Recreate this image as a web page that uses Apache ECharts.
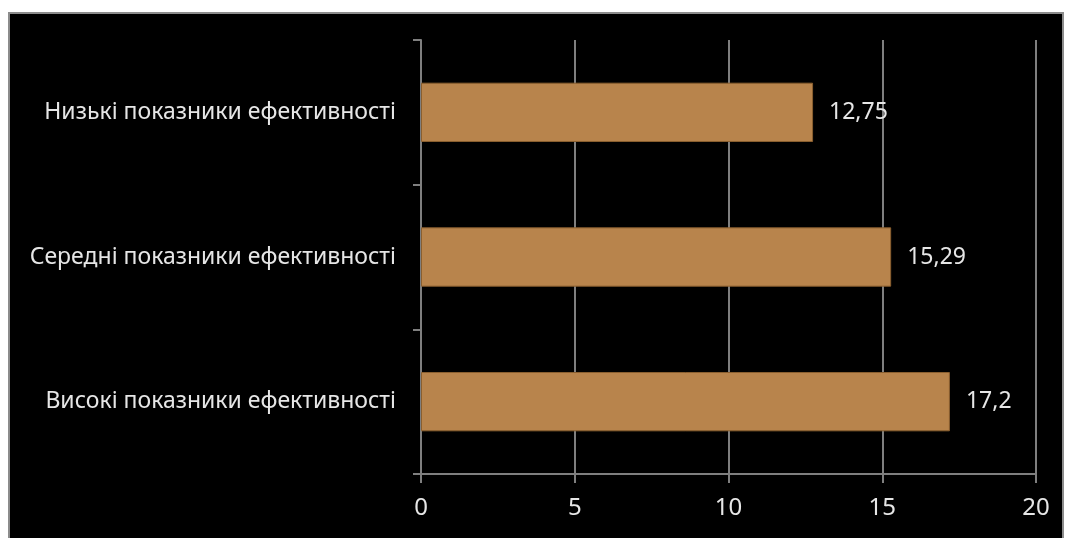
<!DOCTYPE html>
<html>
<head>
<meta charset="utf-8">
<script src="https://cdn.jsdelivr.net/npm/echarts@6/dist/echarts.min.js"></script>
<style>
    html, body { margin: 0; padding: 0; background: #fff; }
    #frame {
        position: absolute; left: 8px; top: 12px; width: 1052px; height: 530px;
        background: #000; border: 2px solid #8c8c8c;
    }
    #main { position: absolute; left: 0; top: 0; width: 1069px; height: 538px; }
</style>
</head>
<body>
<div id="frame"></div>
<div id="main"></div>
<script>
    // категорії та значення
    var categories = [
        'Низькі показники ефективності',
        'Середні показники ефективності',
        'Високі показники ефективності'
    ];
    var values = [12.75, 15.29, 17.2];

    var axisColor = '#7f7f7f';
    var textColor = '#e6e6e6';

    var chart = echarts.init(document.getElementById('main'));
    chart.setOption({
        backgroundColor: 'transparent',
        animation: false,
        grid: {
            left: 421,
            right: 33,
            top: 40,
            bottom: 64
        },
        xAxis: {
            type: 'value',
            min: 0,
            max: 20,
            interval: 5,
            axisLine: { show: true, lineStyle: { color: axisColor, width: 2 } },
            axisTick: { show: true, length: 9, lineStyle: { color: axisColor, width: 2 } },
            splitLine: { show: true, lineStyle: { color: axisColor, width: 2 } },
            axisLabel: {
                color: textColor,
                fontSize: 24,
                fontFamily: 'Noto Sans',
                margin: 22
            }
        },
        yAxis: {
            type: 'category',
            inverse: true,
            data: categories,
            axisLine: { show: true, lineStyle: { color: axisColor, width: 2 } },
            axisTick: { show: true, length: 8, lineStyle: { color: axisColor, width: 2 } },
            axisLabel: {
                color: textColor,
                fontSize: 23,
                fontFamily: 'Noto Sans',
                margin: 25,
                padding: [4, 0, 0, 0]
            }
        },
        series: [{
            type: 'bar',
            data: values,
            barCategoryGap: '59%',
            itemStyle: {
                color: '#b8844c',
                borderColor: '#8a5f2f',
                borderWidth: 1
            },
            label: {
                show: true,
                position: 'right',
                distance: 16,
                color: textColor,
                fontSize: 23,
                fontFamily: 'Noto Sans',
                formatter: function(p) {
                    return String(p.value).replace('.', ',');
                }
            }
        }]
    });
</script>
</body>
</html>
